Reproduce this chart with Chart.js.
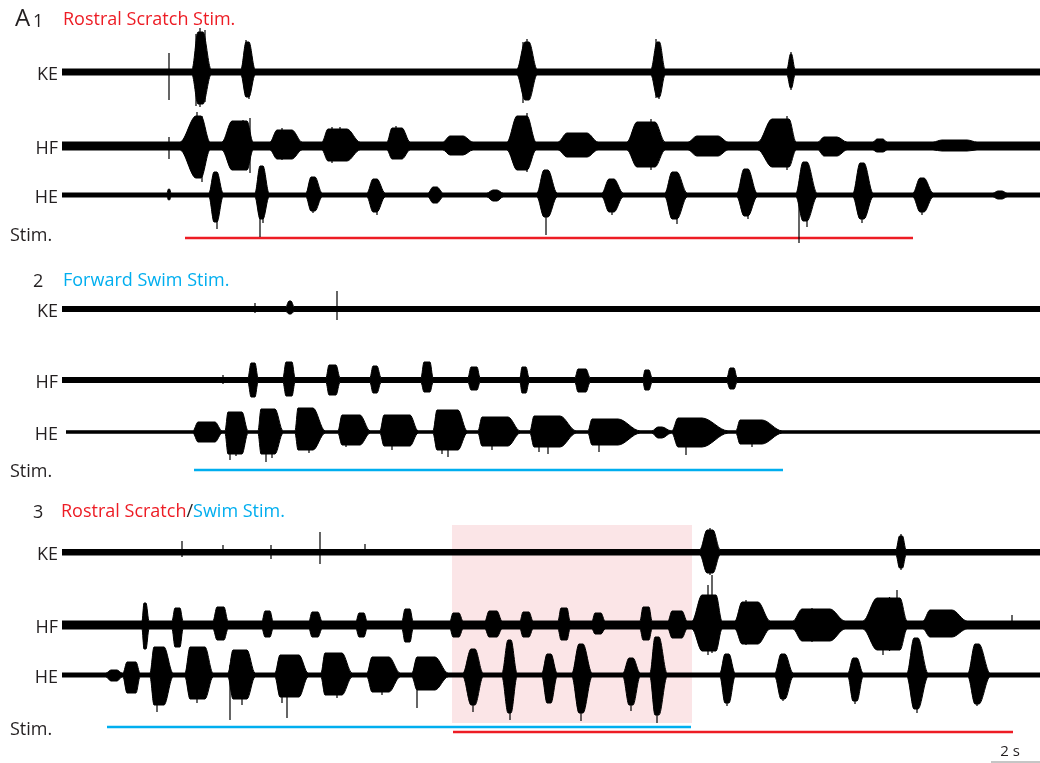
<!DOCTYPE html>
<html>
<head>
<meta charset="utf-8">
<script src="https://cdn.jsdelivr.net/npm/chart.js@4.4.1/dist/chart.umd.min.js"></script>
<style>
  html, body { margin: 0; padding: 0; background: #fff; overflow: hidden; }
  #wrap { width: 1040px; height: 763px; position: relative; }
</style>
</head>
<body>
<div id="wrap"><canvas id="rec" width="1040" height="763"></canvas></div>
<script>
// Time is in seconds from the start of each sweep; amplitudes are in display units.
const SWEEP_END = 39.12;

// bursts: [onset s, full-amplitude start s, full-amplitude end s, offset s, upward amp, downward amp]
// spikes: [time s, upward amplitude, downward amplitude]
// noise:  [upward, downward] half-width of the resting band

// A1 - rostral scratch stimulation
const a1KEnoise = [3, 3];
const a1KEbursts = [[5.2, 5.44, 5.64, 5.96, 40, 32], [7.16, 7.36, 7.48, 7.72, 30, 25], [18.2, 18.52, 18.68, 19.0, 30, 28],
  [23.56, 23.8, 23.9, 24.12, 30, 25], [29.0, 29.14, 29.18, 29.32, 18, 16]];
const a1KEspikes = [[4.28, 19, 28], [5.36, 38, 34], [5.72, 42, 30], [5.52, 44, 35], [7.36, 32, 24], [7.48, 28, 27],
  [18.44, 30, 31], [18.6, 33, 28], [23.76, 33, 26], [23.88, 28, 27], [29.16, 20, 18]];

const a1HFnoise = [4, 4];
const a1HFbursts = [[4.72, 5.36, 5.56, 5.92, 30, 32], [6.4, 6.8, 7.4, 7.64, 25, 24], [8.32, 8.6, 9.2, 9.6, 16, 13],
  [10.4, 10.64, 11.4, 11.92, 17, 15], [13.0, 13.2, 13.6, 13.92, 18, 13], [15.24, 15.52, 16.04, 16.44, 10, 9],
  [17.8, 18.2, 18.6, 18.96, 30, 24], [19.84, 20.2, 21.0, 21.44, 13, 11], [22.6, 23.0, 23.72, 24.12, 24, 21],
  [25.04, 25.4, 26.24, 26.64, 10, 10], [27.84, 28.4, 29.08, 29.36, 27, 21], [30.24, 30.48, 31.0, 31.4, 9, 10],
  [32.44, 32.6, 32.84, 33.0, 7, 6], [34.84, 35.2, 36.2, 36.6, 6, 5]];
const a1HFspikes = [[4.28, 9, 13], [5.4, 34, 30], [5.6, 30, 36], [7.24, 26, 20], [7.52, 28, 27],
  [11.12, 19, 15], [13.36, 20, 12], [18.6, 33, 26], [18.32, 28, 24], [23.56, 27, 24], [23.2, 22, 20],
  [29.0, 30, 24], [28.7, 24, 20], [8.8, 18, 14], [10.8, 19, 17]];

const a1HEnoise = [2, 2];
const a1HEbursts = [[4.2, 4.26, 4.3, 4.36, 6, 5], [5.88, 6.08, 6.2, 6.44, 23, 27], [7.72, 7.92, 8.04, 8.28, 29, 24],
  [9.76, 9.96, 10.12, 10.4, 18, 16], [12.2, 12.44, 12.6, 12.92, 16, 17], [14.64, 14.84, 15.0, 15.24, 8, 8],
  [17.0, 17.24, 17.4, 17.64, 5, 6], [19.0, 19.28, 19.44, 19.8, 25, 22], [21.6, 21.88, 22.08, 22.44, 16, 17],
  [24.12, 24.4, 24.6, 25.0, 23, 24], [27.0, 27.28, 27.44, 27.8, 26, 21], [29.36, 29.64, 29.8, 30.2, 33, 26],
  [31.64, 31.92, 32.08, 32.44, 32, 24], [34.04, 34.32, 34.48, 34.84, 17, 17], [37.24, 37.44, 37.6, 37.8, 4, 4]];
const a1HEspikes = [[7.92, 10, 42], [19.36, 8, 40], [29.48, 10, 48], [6.2, 20, 34], [8.04, 29, 28], [12.6, 16, 20],
  [24.6, 22, 29], [27.44, 26, 24], [32.0, 32, 28], [10.04, 18, 18], [22.0, 16, 20], [34.4, 17, 20], [29.8, 33, 32]];

const a1ScratchStim = [4.92, 34.04];

// A2 - forward swim stimulation
const a2KEnoise = [2.5, 2.5];
const a2KEbursts = [[8.96, 9.08, 9.16, 9.28, 8, 5]];
const a2KEspikes = [[7.72, 6, 4], [11.0, 18, 11]];

const a2HFnoise = [2.5, 2.5];
const a2HFbursts = [[7.44, 7.56, 7.72, 7.84, 17, 17], [8.84, 8.96, 9.2, 9.32, 18, 16], [10.56, 10.68, 10.96, 11.12, 15, 15],
  [12.32, 12.44, 12.6, 12.76, 14, 13], [14.36, 14.48, 14.72, 14.84, 18, 12], [16.24, 16.36, 16.6, 16.72, 13, 10],
  [18.32, 18.4, 18.56, 18.68, 13, 13], [20.52, 20.64, 20.96, 21.12, 11, 12], [23.24, 23.32, 23.48, 23.6, 10, 10],
  [26.6, 26.72, 26.88, 27.0, 12, 9]];
const a2HFspikes = [[6.44, 5, 4]];

const a2HEstart = 0.16;
const a2HEnoise = [1.2, 1.2];
const a2HEbursts = [[5.24, 5.44, 6.12, 6.4, 10, 10], [6.52, 6.64, 7.2, 7.44, 20, 22], [7.84, 7.96, 8.52, 8.84, 23, 22],
  [9.32, 9.44, 10.04, 10.52, 24, 18], [11.04, 11.2, 11.92, 12.32, 17, 13], [12.72, 12.88, 13.92, 14.24, 17, 14],
  [14.84, 15.0, 15.84, 16.2, 22, 18], [16.64, 16.8, 17.84, 18.32, 15, 14], [18.72, 18.88, 19.92, 20.56, 16, 15],
  [21.04, 21.2, 22.24, 23.12, 13, 13], [23.6, 23.84, 24.0, 24.36, 5, 6], [24.4, 24.64, 25.6, 26.64, 14, 15],
  [26.96, 27.12, 28.0, 28.8, 12, 12]];
const a2HEspikes = [[6.72, 10, 28], [6.96, 18, 24], [8.16, 12, 30], [8.4, 20, 26], [9.64, 24, 18], [9.88, 20, 21],
  [11.36, 12, 15], [13.2, 12, 18], [15.44, 22, 25], [15.2, 18, 22], [17.2, 14, 18], [19.44, 16, 22], [19.08, 14, 20],
  [21.48, 10, 20], [24.96, 14, 23], [27.6, 10, 15]];

const a2SwimStim = [5.28, 28.84];

// A3 - swim stimulation followed by rostral scratch stimulation
const a3KEnoise = [2.5, 3];
const a3KEbursts = [[25.52, 25.8, 26.04, 26.32, 22, 21], [33.36, 33.5, 33.62, 33.76, 16, 16]];
const a3KEspikes = [[4.8, 11, 5], [6.44, 7, 3], [8.36, 7, 7], [10.32, 20, 12], [12.12, 8, 3], [25.92, 24, 23], [33.56, 18, 18]];

const a3HFnoise = [4, 4];
const a3HFbursts = [[3.2, 3.28, 3.36, 3.48, 22, 24], [4.4, 4.52, 4.72, 4.84, 17, 22], [6.04, 6.2, 6.48, 6.64, 18, 15],
  [8.0, 8.12, 8.32, 8.44, 14, 12], [9.88, 10.0, 10.24, 10.4, 13, 12], [11.76, 11.88, 12.08, 12.2, 12, 12],
  [13.6, 13.72, 13.92, 14.04, 16, 17], [15.52, 15.64, 15.88, 16.04, 12, 12], [16.92, 17.08, 17.4, 17.6, 14, 12],
  [18.32, 18.44, 18.68, 18.84, 13, 12], [19.84, 19.96, 20.2, 20.32, 17, 15], [21.2, 21.32, 21.56, 21.72, 12, 9],
  [23.12, 23.24, 23.48, 23.6, 18, 15], [24.24, 24.4, 24.8, 25.0, 14, 13], [25.2, 25.6, 26.16, 26.4, 30, 26],
  [26.92, 27.2, 27.84, 28.32, 23, 19], [29.24, 29.6, 30.72, 31.32, 16, 16], [32.04, 32.6, 33.52, 33.8, 27, 25],
  [34.44, 34.72, 35.6, 36.2, 15, 12]];
const a3HFspikes = [[3.32, 22, 24], [26.0, 50, 28], [25.84, 40, 30], [33.4, 35, 24], [32.84, 20, 30], [38.0, 10, 4],
  [27.36, 25, 20], [27.6, 22, 18], [30.0, 17, 17], [33.1, 28, 26]];

const a3HEnoise = [2, 2];
const a3HEbursts = [[1.76, 1.96, 2.2, 2.4, 5, 6], [2.44, 2.6, 2.96, 3.12, 13, 18], [3.52, 3.68, 4.08, 4.44, 28, 30],
  [4.92, 5.12, 5.72, 6.04, 28, 24], [6.64, 6.84, 7.4, 7.72, 25, 24], [8.52, 8.72, 9.48, 9.84, 20, 22],
  [10.36, 10.52, 11.2, 11.6, 22, 20], [12.2, 12.4, 13.08, 13.52, 18, 17], [14.0, 14.2, 14.92, 15.44, 18, 15],
  [16.04, 16.36, 16.52, 16.84, 26, 30], [17.6, 17.84, 17.96, 18.2, 35, 38], [19.2, 19.4, 19.56, 19.8, 21, 28],
  [20.4, 20.68, 20.84, 21.2, 31, 38], [22.44, 22.68, 22.84, 23.12, 17, 30], [23.52, 23.72, 23.88, 24.2, 38, 40],
  [26.32, 26.52, 26.68, 26.92, 21, 28], [28.52, 28.76, 28.92, 29.24, 21, 24], [31.44, 31.64, 31.8, 32.04, 17, 26],
  [33.8, 34.08, 34.24, 34.64, 37, 34], [36.24, 36.52, 36.68, 37.12, 31, 29]];
const a3HEspikes = [[6.72, 10, 45], [9.0, 5, 43], [14.2, 4, 33], [17.92, 35, 45], [23.8, 38, 48], [3.8, 28, 37],
  [5.4, 28, 28], [7.2, 25, 30], [8.8, 20, 28], [11.0, 22, 23], [12.8, 18, 20], [16.44, 26, 37], [20.76, 31, 46],
  [22.76, 17, 36], [26.6, 21, 31], [28.84, 21, 26], [31.72, 17, 29], [34.2, 37, 38], [36.6, 31, 31]];

const a3SwimStim = [1.8, 25.16];
const a3ScratchStim = [15.64, 38.04];
const a3Window = [15.6, 25.2];

const SCALE_BAR_S = 2;

// ---- layout: vertical position of every row (display units, top = 0) ----
const ROWS1 = { KE: 72, HF: 146, HE: 195, stim: 238, stimLabel: 241, title: 25 };
const ROWS2 = { KE: 309, HF: 380, HE: 432, stim: 470, stimLabel: 477, title: 286 };
const ROWS3 = { KE: 552, HF: 625, HE: 675, stim: 727, stim2: 732, stimLabel: 735, title: 517 };

const RED = '#ed1c24', CYAN = '#00aeef', INK = '#231f20';
const FONT = '"Open Sans", "Noto Sans", sans-serif';

const datasets = [];

// One recording: a filled band between the upper and lower envelope,
// plus thin vertical lines for isolated large units.
function addTrace(row, noise, bursts, spikes, start = 0) {
  const up = [{ x: start, y: row - noise[0] }];
  const dn = [{ x: start, y: row + noise[1] }];
  bursts.forEach(([on, rise, fall, off, u, d]) => {
    up.push({ x: on, y: row - noise[0] }, { x: rise, y: row - u }, { x: fall, y: row - u }, { x: off, y: row - noise[0] });
    dn.push({ x: on, y: row + noise[1] }, { x: rise, y: row + d }, { x: fall, y: row + d }, { x: off, y: row + noise[1] });
  });
  up.push({ x: SWEEP_END, y: row - noise[0] });
  dn.push({ x: SWEEP_END, y: row + noise[1] });
  const common = {
    borderColor: '#000', borderWidth: 1, pointRadius: 0,
    cubicInterpolationMode: 'monotone'
  };
  datasets.push({ ...common, data: up, fill: false });
  datasets.push({ ...common, data: dn, fill: '-1', backgroundColor: '#000' });

  const sp = [];
  spikes.forEach(([t, u, d]) => {
    sp.push({ x: t, y: row - u }, { x: t, y: row + d }, { x: t, y: null });
  });
  datasets.push({ data: sp, borderColor: '#000', borderWidth: 1.2, pointRadius: 0, spanGaps: false, fill: false });
}

function addStim(row, span, color) {
  datasets.push({
    data: [{ x: span[0], y: row }, { x: span[1], y: row }],
    borderColor: color, borderWidth: 2.5, pointRadius: 0, fill: false
  });
}

addTrace(ROWS1.KE, a1KEnoise, a1KEbursts, a1KEspikes);
addTrace(ROWS1.HF, a1HFnoise, a1HFbursts, a1HFspikes);
addTrace(ROWS1.HE, a1HEnoise, a1HEbursts, a1HEspikes);
addStim(ROWS1.stim, a1ScratchStim, RED);

addTrace(ROWS2.KE, a2KEnoise, a2KEbursts, a2KEspikes);
addTrace(ROWS2.HF, a2HFnoise, a2HFbursts, a2HFspikes);
addTrace(ROWS2.HE, a2HEnoise, a2HEbursts, a2HEspikes, a2HEstart);
addStim(ROWS2.stim, a2SwimStim, CYAN);

addTrace(ROWS3.KE, a3KEnoise, a3KEbursts, a3KEspikes);
addTrace(ROWS3.HF, a3HFnoise, a3HFbursts, a3HFspikes);
addTrace(ROWS3.HE, a3HEnoise, a3HEbursts, a3HEspikes);
addStim(ROWS3.stim, a3SwimStim, CYAN);
addStim(ROWS3.stim2, a3ScratchStim, RED);

// 2 s scale bar in the lower right corner
datasets.push({
  data: [{ x: SWEEP_END - SCALE_BAR_S + 0.04, y: 762 }, { x: SWEEP_END + 0.04, y: 762 }],
  borderColor: '#8c8c8c', borderWidth: 1, pointRadius: 0, fill: false
});

function put(ctx, str, x, y, size, color, align = 'left') {
  ctx.font = `${size}px ${FONT}`;
  ctx.fillStyle = color;
  ctx.textAlign = align;
  ctx.textBaseline = 'alphabetic';
  ctx.fillText(str, x, y);
  return ctx.measureText(str).width;
}

const decor = {
  id: 'decor',
  beforeDatasetsDraw(chart) {
    const { ctx, scales: { x, y } } = chart;
    const l = x.getPixelForValue(a3Window[0]);
    const r = x.getPixelForValue(a3Window[1]);
    const t = y.getPixelForValue(ROWS3.KE - 27);
    const b = y.getPixelForValue(ROWS3.stim - 4);
    ctx.save();
    ctx.fillStyle = '#fbe5e7';
    ctx.fillRect(l, t, r - l, b - t);
    ctx.restore();
  },
  afterDraw(chart) {
    const { ctx, scales: { y } } = chart;
    ctx.save();
    [ROWS1, ROWS2, ROWS3].forEach(rows => {
      ['KE', 'HF', 'HE'].forEach(ch => put(ctx, ch, 58, y.getPixelForValue(rows[ch]) + 8, 18, INK, 'right'));
      put(ctx, 'Stim.', 10, y.getPixelForValue(rows.stimLabel), 18, INK);
    });

    // panel titles
    put(ctx, 'A', 15, 26, 24, INK);
    put(ctx, '1', 33, 27, 18, INK);
    put(ctx, 'Rostral Scratch Stim.', 63, ROWS1.title, 18, RED);

    put(ctx, '2', 33, ROWS2.title + 1, 18, INK);
    put(ctx, 'Forward Swim Stim.', 63, ROWS2.title, 18, CYAN);

    put(ctx, '3', 33, ROWS3.title + 1, 18, INK);
    let cx = 61;
    cx += put(ctx, 'Rostral Scratch', cx, ROWS3.title, 18, RED);
    cx += put(ctx, '/', cx, ROWS3.title, 18, INK);
    put(ctx, 'Swim Stim.', cx, ROWS3.title, 18, CYAN);

    put(ctx, '2 s', 1010, 756, 15, INK, 'center');
    ctx.restore();
  }
};

new Chart(document.getElementById('rec'), {
  type: 'line',
  data: { datasets },
  options: {
    responsive: false,
    animation: false,
    events: [],
    layout: { padding: 0 },
    plugins: { legend: { display: false }, tooltip: { enabled: false } },
    scales: {
      x: { type: 'linear', min: -2.48, max: SWEEP_END, display: false },
      y: { type: 'linear', min: 0, max: 763, reverse: true, display: false }
    }
  },
  plugins: [decor]
});
</script>
</body>
</html>
